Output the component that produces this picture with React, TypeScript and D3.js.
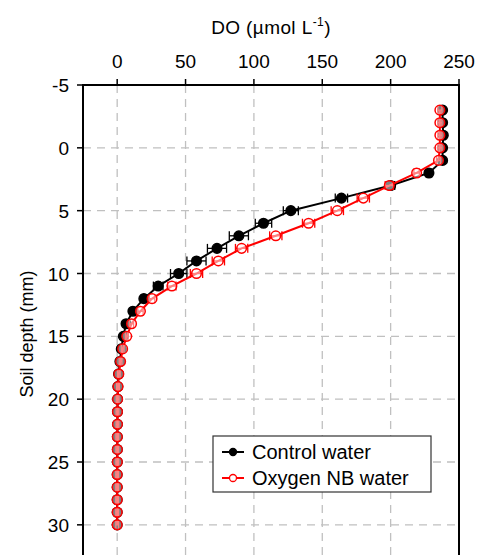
import React from 'react';
import * as d3 from 'd3';

// soil depth (mm) of each profile point
const depth = [-3, -2, -1, 0, 1, 2, 3, 4, 5, 6, 7, 8, 9, 10, 11, 12, 13, 14, 15, 16, 17, 18, 19, 20, 21, 22, 23, 24, 25, 26, 27, 28, 29, 30];

// DO (umol/L)
const controlDO = [238, 238, 238.5, 238, 238, 228, 200, 164, 127, 107, 89, 73, 58, 45, 30, 19.5, 11.5, 6.5, 4.5, 3, 2, 1, 0.5, 0.3, 0.2, 0.2, 0.1, 0.1, 0.1, 0, 0, 0, 0, 0];
const controlErr = [1.5, 1.5, 1.5, 1.5, 1.5, 2, 3, 4.5, 5.5, 6, 7, 7, 7, 6, 3.5, 2, 1.5, 1, 1, 1, 1, 1, 1, 1, 1, 1, 1, 1, 1, 1, 1, 1, 1, 1];
const oxygenDO = [236, 236, 236, 236, 235, 219, 199, 180, 161, 140, 116, 91, 74, 58, 40, 25.5, 17, 10.5, 7, 4, 2.5, 1.2, 0.6, 0.3, 0.2, 0.2, 0.1, 0.1, 0.1, 0, 0, 0, 0, 0];
const oxygenErr = [1.5, 1.5, 1.5, 1.5, 1.5, 2, 3, 4.5, 4.5, 4.5, 4.5, 4.5, 4.5, 4.5, 3, 2, 2, 1.5, 1, 1, 1, 1, 1, 1, 1, 1, 1, 1, 1, 1, 1, 1, 1, 1];

const xTicks = [0, 50, 100, 150, 200, 250];
const yTicks = [-5, 0, 5, 10, 15, 20, 25, 30];
const seriesNames = ['Control water', 'Oxygen NB water'];

const W = 478;
const H = 555;
const font = 'Arial, "Liberation Sans", sans-serif';

export default function App() {
  const x = d3.scaleLinear().domain([-25, 250]).range([83, 459]);
  const y = d3.scaleLinear().domain([-5, 32.4]).range([85, 555]);

  const series = [
    { name: seriesNames[0], vals: controlDO, err: controlErr, color: '#000', fill: '#000' },
    { name: seriesNames[1], vals: oxygenDO, err: oxygenErr, color: '#ff0000', fill: 'rgba(255,255,255,0.5)' },
  ];

  const line = d3.line<number>()
    .x(d => x(d))
    .y((d, i) => y(depth[i]));

  const top = y(-5);
  const left = x(-25);
  const right = x(250);

  return (
    <svg width={W} height={H} style={{ position: 'absolute', left: 0, top: 0 }} fontFamily={font}>
      {/* grid */}
      {xTicks.filter(t => t < 250).map(t => (
        <line key={'gx' + t} x1={x(t)} x2={x(t)} y1={top} y2={H} stroke="#c0c0c0" strokeWidth={1.3} strokeDasharray="8,6" />
      ))}
      {yTicks.filter(t => t > -5).map(t => (
        <line key={'gy' + t} x1={left} x2={right} y1={y(t)} y2={y(t)} stroke="#c0c0c0" strokeWidth={1.3} strokeDasharray="8,6" />
      ))}

      {/* series */}
      {series.map(s => (
        <g key={s.name}>
          <path d={line(s.vals) || ''} fill="none" stroke={s.color} strokeWidth={2} />
          {s.vals.map((v, i) => (
            <g key={i} stroke={s.color} strokeWidth={1.3}>
              <line x1={x(v - s.err[i])} x2={x(v + s.err[i])} y1={y(depth[i])} y2={y(depth[i])} />
              <line x1={x(v - s.err[i])} x2={x(v - s.err[i])} y1={y(depth[i]) - 4.5} y2={y(depth[i]) + 4.5} />
              <line x1={x(v + s.err[i])} x2={x(v + s.err[i])} y1={y(depth[i]) - 4.5} y2={y(depth[i]) + 4.5} />
              <circle cx={x(v)} cy={y(depth[i])} r={4.8} fill={s.fill} strokeWidth={1.5} />
            </g>
          ))}
        </g>
      ))}

      {/* frame */}
      <line x1={left} x2={left} y1={top} y2={H} stroke="#000" strokeWidth={2} />
      <line x1={right} x2={right} y1={top} y2={H} stroke="#000" strokeWidth={2} />
      <line x1={left - 1} x2={right + 1} y1={top} y2={top} stroke="#000" strokeWidth={2} />

      {/* top axis */}
      {xTicks.map(t => (
        <g key={'tx' + t}>
          <line x1={x(t)} x2={x(t)} y1={top} y2={top - 6} stroke="#000" strokeWidth={1.5} />
          <text x={x(t)} y={top - 17} textAnchor="middle" fontSize={19}>{t}</text>
        </g>
      ))}
      <text x={x(112.5)} y={34} textAnchor="middle" fontSize={19} letterSpacing={0.4}>
        DO (µmol L<tspan dy={-8} fontSize={12}>-1</tspan><tspan dy={8}>)</tspan>
      </text>

      {/* left axis */}
      {yTicks.map(t => (
        <g key={'ty' + t}>
          <line x1={left} x2={left - 6} y1={y(t)} y2={y(t)} stroke="#000" strokeWidth={1.5} />
          <text x={69} y={y(t) + 7} textAnchor="end" fontSize={19}>{t}</text>
        </g>
      ))}
      <text transform={`translate(33,334) rotate(-90)`} textAnchor="middle" fontSize={18}>Soil depth (mm)</text>

      {/* legend */}
      <g>
        <rect x={213} y={436} width={218} height={56} fill="#fff" stroke="#333" strokeWidth={1.2} />
        {series.map((s, i) => (
          <g key={'lg' + i} transform={`translate(0,${452 + i * 26})`}>
            <line x1={222} x2={244} y1={0} y2={0} stroke={s.color} strokeWidth={2} />
            <circle cx={233} cy={0} r={3.5} fill={i === 0 ? '#000' : '#fff'} stroke={s.color} strokeWidth={1.3} />
            <text x={252} y={7} fontSize={20}>{s.name}</text>
          </g>
        ))}
      </g>
    </svg>
  );
}
